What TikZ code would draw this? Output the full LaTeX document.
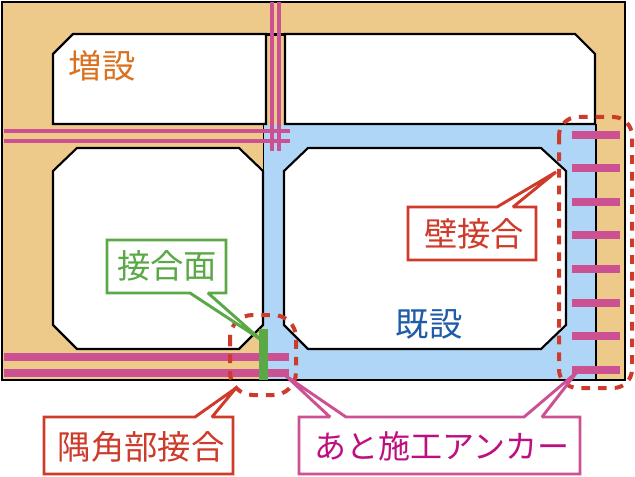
\documentclass[tikz,border=0pt]{standalone}
\usepackage{fontspec}
\setmainfont{Noto Sans CJK JP}
\definecolor{tanc}{HTML}{EECA8A}
\definecolor{bluec}{HTML}{AFD6F7}
\definecolor{pinkc}{HTML}{CB5192}
\definecolor{greenc}{HTML}{5AA846}
\definecolor{redc}{HTML}{CF3B2A}
\definecolor{magtext}{HTML}{BE0F80}
\definecolor{bluetext}{HTML}{1F5BA8}
\definecolor{orangetext}{HTML}{D9711F}
\tikzset{
  room/.style={draw=black,line width=1.6pt,fill=white,line join=miter},
  anchorbar/.style={draw=pinkc,line width=6pt},
  thinbar/.style={draw=pinkc,line width=2.4pt},
  zone/.style={draw=redc,line width=3pt,dash pattern=on 6.5pt off 6pt,rounded corners=14pt},
  callout/.style={fill=white,line width=2.2pt,line join=miter,miter limit=2},
  lbl/.style={inner sep=0pt,font=\fontsize{25}{25}\selectfont}
}
\begin{document}
\begin{tikzpicture}[x=0.75pt,y=-0.75pt]
\useasboundingbox (0,0) rectangle (635,477);
% bodies
\fill[tanc] (2,2) rectangle (625,380);
\fill[bluec] (264,125) rectangle (596,380);
\draw[line width=1.6pt] (596,124) -- (596,380);
\draw[line width=1.2pt] (263.5,124) -- (263.5,171);
\draw[line width=2.2pt] (2,380) -- (2,2) -- (625,2) -- (625,380) -- cycle;
% rooms
\draw[room] (73,34) -- (266,34) -- (266,124) -- (53,124) -- (53,54) -- cycle;
\draw[room] (285,34) -- (575,34) -- (595,54) -- (595,124) -- (285,124) -- cycle;
\draw[room] (77,148) -- (239,148) -- (263,171) -- (263,325) -- (239,349) -- (77,349) -- (53,325) -- (53,171) -- cycle;
\draw[room] (308,148) -- (541,148) -- (566,171) -- (566,325) -- (541,349) -- (308,349) -- (284,325) -- (284,171) -- cycle;
\draw[line width=2.6pt] (265,34.5) -- (286,34.5);
% thin anchors
\draw[thinbar] (272,2) -- (272,151);
\draw[thinbar] (279,2) -- (279,151);
\draw[thinbar] (4,131) -- (290,131);
\draw[thinbar] (4,141) -- (290,141);
% thick anchors
\draw[anchorbar] (4,357) -- (289,357);
\draw[anchorbar] (4,373) -- (289,373);
\foreach \yy in {135,168,202,235,269,303,336,370}
  \draw[anchorbar] (572,\yy) -- (620,\yy);
% dashed zones
\draw[zone] (559,117) rectangle (632,388);
\draw[zone,rounded corners=17pt] (230,315) rectangle (296,395);
% callouts
\coordinate (tipwall) at (556,172);
\coordinate (tipface) at (260,339);
\coordinate (tipcorner) at (236,388);
\coordinate (tipanchorA) at (286,376);
\coordinate (tipanchorB) at (577,372);
\draw[callout,draw=redc] (408,207) -- (497,207) -- (tipwall) -- (513,207) -- (536,207) -- (536,260) -- (408,260) -- cycle;
\draw[callout,draw=greenc] (107,240) -- (226,240) -- (226,293) -- (208,293) -- (tipface) -- (190,293) -- (107,293) -- cycle;
\draw[callout,draw=redc] (44,417) -- (195,417) -- (tipcorner) -- (212,417) -- (233,417) -- (233,474) -- (44,474) -- cycle;
\draw[callout,draw=pinkc] (299,417) -- (330,417) -- (tipanchorA) -- (346,417) -- (524,417) -- (tipanchorB) -- (542,417) -- (580,417) -- (580,474) -- (299,474) -- cycle;
% joint face
\draw[greenc,line width=6.2pt] (263.5,329) -- (263.5,380);
% labels
\node[lbl,text=orangetext] (zou) at (102,66) {増設};
\node[lbl,text=bluetext] (ki) at (429,324) {既設};
\node[lbl,text=redc] (wall) at (474,234) {壁接合};
\node[lbl,text=greenc] (face) at (167,266) {接合面};
\node[lbl,text=redc] (corner) at (141,447) {隅角部接合};
\node[lbl,text=magtext,font=\fontsize{24}{24}\selectfont] (anchor) at (442,446) {あと施工アンカー};
\end{tikzpicture}
\end{document}
